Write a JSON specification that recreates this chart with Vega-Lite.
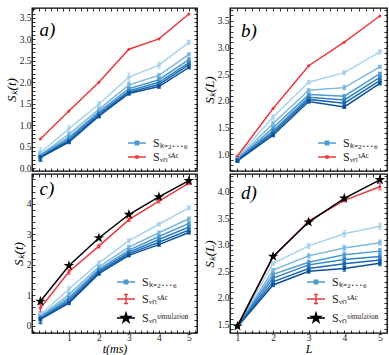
{
"$schema": "https://vega.github.io/schema/vega-lite/v6.json",
"padding": {"left": 4, "top": 3, "right": 2, "bottom": 0},
"background": "white",
"config": {
 "view": {"stroke": "black", "strokeWidth": 1.3},
 "axis": {"labelFont": "Liberation Serif", "labelFontSize": 9.5, "labelColor": "#222222", "tickColor": "black", "tickWidth": 0.8, "domain": false, "titleFont": "Liberation Serif", "titleFontStyle": "italic", "titleFontWeight": "normal", "titleFontSize": 13, "titleColor": "black", "labelOverlap": false, "labelFlush": false}
},
"datasets": {
 "a": [
  {"x":0.05,"y":0.36,"e":0.12,"s":"k2"},{"x":1,"y":0.92,"e":0.08,"s":"k2"},{"x":2,"y":1.49,"e":0.07,"s":"k2"},{"x":3,"y":2.12,"e":0.09,"s":"k2"},{"x":4,"y":2.40,"e":0.07,"s":"k2"},{"x":5,"y":2.93,"e":0.05,"s":"k2"},
  {"x":0.05,"y":0.31,"e":0.10,"s":"k3"},{"x":1,"y":0.79,"e":0.05,"s":"k3"},{"x":2,"y":1.37,"e":0.05,"s":"k3"},{"x":3,"y":1.94,"e":0.06,"s":"k3"},{"x":4,"y":2.16,"e":0.05,"s":"k3"},{"x":5,"y":2.65,"e":0.04,"s":"k3"},
  {"x":0.05,"y":0.29,"e":0.09,"s":"k4"},{"x":1,"y":0.72,"e":0.04,"s":"k4"},{"x":2,"y":1.31,"e":0.04,"s":"k4"},{"x":3,"y":1.85,"e":0.05,"s":"k4"},{"x":4,"y":2.06,"e":0.05,"s":"k4"},{"x":5,"y":2.53,"e":0.04,"s":"k4"},
  {"x":0.05,"y":0.27,"e":0.09,"s":"k5"},{"x":1,"y":0.67,"e":0.04,"s":"k5"},{"x":2,"y":1.27,"e":0.04,"s":"k5"},{"x":3,"y":1.80,"e":0.04,"s":"k5"},{"x":4,"y":2.00,"e":0.04,"s":"k5"},{"x":5,"y":2.46,"e":0.04,"s":"k5"},
  {"x":0.05,"y":0.26,"e":0.09,"s":"k6"},{"x":1,"y":0.64,"e":0.04,"s":"k6"},{"x":2,"y":1.24,"e":0.04,"s":"k6"},{"x":3,"y":1.77,"e":0.04,"s":"k6"},{"x":4,"y":1.95,"e":0.04,"s":"k6"},{"x":5,"y":2.41,"e":0.04,"s":"k6"},
  {"x":0.05,"y":0.25,"e":0.09,"s":"k7"},{"x":1,"y":0.61,"e":0.04,"s":"k7"},{"x":2,"y":1.21,"e":0.04,"s":"k7"},{"x":3,"y":1.74,"e":0.04,"s":"k7"},{"x":4,"y":1.90,"e":0.04,"s":"k7"},{"x":5,"y":2.35,"e":0.04,"s":"k7"},
  {"x":0.05,"y":0.68,"e":0,"s":"SAC"},{"x":1,"y":1.33,"e":0,"s":"SAC"},{"x":2,"y":2.00,"e":0,"s":"SAC"},{"x":3,"y":2.77,"e":0,"s":"SAC"},{"x":4,"y":3.01,"e":0,"s":"SAC"},{"x":5,"y":3.59,"e":0,"s":"SAC"}
 ],
 "b": [
  {"x":1,"y":0.95,"e":0.03,"s":"k2"},{"x":2,"y":1.70,"e":0.04,"s":"k2"},{"x":3,"y":2.35,"e":0.03,"s":"k2"},{"x":4,"y":2.53,"e":0.04,"s":"k2"},{"x":5,"y":2.92,"e":0.04,"s":"k2"},
  {"x":1,"y":0.93,"e":0.03,"s":"k3"},{"x":2,"y":1.58,"e":0.04,"s":"k3"},{"x":3,"y":2.20,"e":0.03,"s":"k3"},{"x":4,"y":2.25,"e":0.04,"s":"k3"},{"x":5,"y":2.64,"e":0.03,"s":"k3"},
  {"x":1,"y":0.91,"e":0.03,"s":"k4"},{"x":2,"y":1.50,"e":0.03,"s":"k4"},{"x":3,"y":2.12,"e":0.03,"s":"k4"},{"x":4,"y":2.09,"e":0.03,"s":"k4"},{"x":5,"y":2.51,"e":0.03,"s":"k4"},
  {"x":1,"y":0.90,"e":0.03,"s":"k5"},{"x":2,"y":1.44,"e":0.03,"s":"k5"},{"x":3,"y":2.07,"e":0.03,"s":"k5"},{"x":4,"y":2.02,"e":0.03,"s":"k5"},{"x":5,"y":2.44,"e":0.03,"s":"k5"},
  {"x":1,"y":0.89,"e":0.03,"s":"k6"},{"x":2,"y":1.40,"e":0.03,"s":"k6"},{"x":3,"y":2.03,"e":0.03,"s":"k6"},{"x":4,"y":1.96,"e":0.03,"s":"k6"},{"x":5,"y":2.38,"e":0.03,"s":"k6"},
  {"x":1,"y":0.88,"e":0.03,"s":"k7"},{"x":2,"y":1.36,"e":0.03,"s":"k7"},{"x":3,"y":1.99,"e":0.03,"s":"k7"},{"x":4,"y":1.89,"e":0.03,"s":"k7"},{"x":5,"y":2.33,"e":0.03,"s":"k7"},
  {"x":1,"y":0.97,"e":0,"s":"SAC"},{"x":2,"y":1.86,"e":0,"s":"SAC"},{"x":3,"y":2.66,"e":0,"s":"SAC"},{"x":4,"y":3.10,"e":0,"s":"SAC"},{"x":5,"y":3.59,"e":0,"s":"SAC"}
 ],
 "c": [
  {"x":0.05,"y":0.36,"e":0.12,"s":"k2"},{"x":1,"y":1.20,"e":0.10,"s":"k2"},{"x":2,"y":2.06,"e":0.07,"s":"k2"},{"x":3,"y":2.79,"e":0.07,"s":"k2"},{"x":4,"y":3.33,"e":0.06,"s":"k2"},{"x":5,"y":3.87,"e":0.06,"s":"k2"},
  {"x":0.05,"y":0.31,"e":0.12,"s":"k3"},{"x":1,"y":1.02,"e":0.07,"s":"k3"},{"x":2,"y":1.93,"e":0.06,"s":"k3"},{"x":3,"y":2.58,"e":0.06,"s":"k3"},{"x":4,"y":3.05,"e":0.06,"s":"k3"},{"x":5,"y":3.51,"e":0.06,"s":"k3"},
  {"x":0.05,"y":0.28,"e":0.12,"s":"k4"},{"x":1,"y":0.92,"e":0.06,"s":"k4"},{"x":2,"y":1.85,"e":0.05,"s":"k4"},{"x":3,"y":2.48,"e":0.05,"s":"k4"},{"x":4,"y":2.93,"e":0.05,"s":"k4"},{"x":5,"y":3.36,"e":0.05,"s":"k4"},
  {"x":0.05,"y":0.25,"e":0.13,"s":"k5"},{"x":1,"y":0.85,"e":0.05,"s":"k5"},{"x":2,"y":1.80,"e":0.05,"s":"k5"},{"x":3,"y":2.41,"e":0.05,"s":"k5"},{"x":4,"y":2.83,"e":0.05,"s":"k5"},{"x":5,"y":3.24,"e":0.05,"s":"k5"},
  {"x":0.05,"y":0.23,"e":0.14,"s":"k6"},{"x":1,"y":0.79,"e":0.05,"s":"k6"},{"x":2,"y":1.75,"e":0.05,"s":"k6"},{"x":3,"y":2.36,"e":0.05,"s":"k6"},{"x":4,"y":2.74,"e":0.05,"s":"k6"},{"x":5,"y":3.14,"e":0.05,"s":"k6"},
  {"x":0.05,"y":0.21,"e":0.15,"s":"k7"},{"x":1,"y":0.74,"e":0.05,"s":"k7"},{"x":2,"y":1.71,"e":0.05,"s":"k7"},{"x":3,"y":2.31,"e":0.05,"s":"k7"},{"x":4,"y":2.66,"e":0.05,"s":"k7"},{"x":5,"y":3.06,"e":0.05,"s":"k7"},
  {"x":0.05,"y":0.58,"e":0.12,"s":"SAC"},{"x":1,"y":1.77,"e":0.08,"s":"SAC"},{"x":2,"y":2.61,"e":0.06,"s":"SAC"},{"x":3,"y":3.48,"e":0.06,"s":"SAC"},{"x":4,"y":4.09,"e":0.06,"s":"SAC"},{"x":5,"y":4.68,"e":0.05,"s":"SAC"},
  {"x":0.05,"y":0.80,"e":0,"s":"Sim"},{"x":1,"y":1.97,"e":0,"s":"Sim"},{"x":2,"y":2.88,"e":0,"s":"Sim"},{"x":3,"y":3.65,"e":0,"s":"Sim"},{"x":4,"y":4.23,"e":0,"s":"Sim"},{"x":5,"y":4.76,"e":0,"s":"Sim"}
 ],
 "d": [
  {"x":1,"y":1.46,"e":0.02,"s":"k2"},{"x":2,"y":2.65,"e":0.03,"s":"k2"},{"x":3,"y":2.98,"e":0.05,"s":"k2"},{"x":4,"y":3.21,"e":0.06,"s":"k2"},{"x":5,"y":3.35,"e":0.06,"s":"k2"},
  {"x":1,"y":1.46,"e":0.02,"s":"k3"},{"x":2,"y":2.52,"e":0.03,"s":"k3"},{"x":3,"y":2.79,"e":0.04,"s":"k3"},{"x":4,"y":2.94,"e":0.05,"s":"k3"},{"x":5,"y":3.04,"e":0.05,"s":"k3"},
  {"x":1,"y":1.46,"e":0.02,"s":"k4"},{"x":2,"y":2.44,"e":0.03,"s":"k4"},{"x":3,"y":2.67,"e":0.04,"s":"k4"},{"x":4,"y":2.81,"e":0.05,"s":"k4"},{"x":5,"y":2.88,"e":0.05,"s":"k4"},
  {"x":1,"y":1.46,"e":0.02,"s":"k5"},{"x":2,"y":2.37,"e":0.03,"s":"k5"},{"x":3,"y":2.62,"e":0.04,"s":"k5"},{"x":4,"y":2.72,"e":0.05,"s":"k5"},{"x":5,"y":2.78,"e":0.05,"s":"k5"},
  {"x":1,"y":1.46,"e":0.02,"s":"k6"},{"x":2,"y":2.30,"e":0.03,"s":"k6"},{"x":3,"y":2.55,"e":0.04,"s":"k6"},{"x":4,"y":2.64,"e":0.05,"s":"k6"},{"x":5,"y":2.71,"e":0.05,"s":"k6"},
  {"x":1,"y":1.45,"e":0.02,"s":"k7"},{"x":2,"y":2.24,"e":0.03,"s":"k7"},{"x":3,"y":2.50,"e":0.04,"s":"k7"},{"x":4,"y":2.55,"e":0.05,"s":"k7"},{"x":5,"y":2.65,"e":0.05,"s":"k7"},
  {"x":1,"y":1.47,"e":0.01,"s":"SAC"},{"x":2,"y":2.77,"e":0.02,"s":"SAC"},{"x":3,"y":3.45,"e":0.03,"s":"SAC"},{"x":4,"y":3.84,"e":0.03,"s":"SAC"},{"x":5,"y":4.10,"e":0.06,"s":"SAC"},
  {"x":1,"y":1.46,"e":0,"s":"Sim"},{"x":2,"y":2.78,"e":0,"s":"Sim"},{"x":3,"y":3.43,"e":0,"s":"Sim"},{"x":4,"y":3.88,"e":0,"s":"Sim"},{"x":5,"y":4.23,"e":0,"s":"Sim"}
 ]
},
"columns": 2,
"bounds": "flush",
"align": "each",
"spacing": {"row": 3, "column": 33},
"resolve": {"scale": {"color": "independent"}, "legend": {"color": "independent"}},
"concat": [
   {
    "width": 165, "height": 163,
    "data": {"name": "a"},
    "resolve": {"axis": {"x": "independent", "y": "independent"}},
    "layer": [
     {
      "transform": [{"filter": "datum.e > 0"}],
      "mark": {"type": "errorbar", "ticks": {"size": 4}, "thickness": 1.1},
      "encoding": {
       "x": {"field": "x", "type": "quantitative", "axis": null},
       "y": {"field": "y", "type": "quantitative", "axis": null},
       "yError": {"field": "e"},
       "color": {"field": "s", "type": "nominal"}
      }
     },
     {
      "mark": {"type": "line", "strokeWidth": 1.5},
      "encoding": {
       "x": {"field": "x", "type": "quantitative", "scale": {"domain": [-0.23, 5.27], "nice": false, "zero": false},
        "axis": {"orient": "bottom", "labels": false, "title": null, "tickSize": -3,
         "values": [-0.2,0,0.2,0.4,0.6,0.8,1,1.2,1.4,1.6,1.8,2,2.2,2.4,2.6,2.8,3,3.2,3.4,3.6,3.8,4,4.2,4.4,4.6,4.8,5,5.2],
         "gridColor": {"condition": {"test": "abs(datum.value-round(datum.value))<0.001 && datum.value>0.5", "value": "#d2d2d2"}, "value": "#eeeeee"},
         "gridWidth": {"condition": {"test": "abs(datum.value-round(datum.value))<0.001 && datum.value>0.5", "value": 0.9}, "value": 0.5}}},
       "y": {"field": "y", "type": "quantitative", "scale": {"domain": [-0.065, 3.73], "nice": false, "zero": false},
        "axis": {"orient": "left", "title": "Sₖ(t)", "titlePadding": 1, "tickSize": -3, "labelPadding": 4,
         "values": [0,0.1,0.2,0.3,0.4,0.5,0.6,0.7,0.8,0.9,1,1.1,1.2,1.3,1.4,1.5,1.6,1.7,1.8,1.9,2,2.1,2.2,2.3,2.4,2.5,2.6,2.7,2.8,2.9,3,3.1,3.2,3.3,3.4,3.5,3.6,3.7],
         "labelExpr": "abs(datum.value*2-round(datum.value*2))<0.001 ? format(datum.value,'.1f') : ''",
         "gridColor": {"condition": {"test": "abs(datum.value*2-round(datum.value*2))<0.001", "value": "#d2d2d2"}, "value": "#eeeeee"},
         "gridWidth": {"condition": {"test": "abs(datum.value*2-round(datum.value*2))<0.001", "value": 0.9}, "value": 0.5}}},
       "color": {"field": "s", "type": "nominal",
        "scale": {"domain": ["k2","k3","k4","k5","k6","k7","SAC"], "range": ["#a8d2ec","#7ab6df","#4f9bd1","#3282c2","#1d69b0","#0d5299","#e8393f"]},
        "legend": {"title": null, "orient": "bottom-right", "offset": 6, "values": ["k4","SAC"],
         "labelExpr": "datum.value == 'k4' ? 'Sₖ₌₂…₆' : datum.value == 'SAC' ? 'Sᵥₙˢᴬᶜ' : 'Sᵥₙˢⁱᵐᵘˡᵃᵗⁱᵒⁿ'",
         "labelFont": "Liberation Serif", "labelFontSize": 12, "labelColor": "#222222", "symbolSize": 100, "labelOffset": 10, "rowPadding": 2, "padding": 2,
         "encode": {"symbols": {"update": {
          "shape": {"signal": "datum.value == 'SAC' ? 'M-1.8,0L1.8,0M-0.2,-0.2H0.2V0.2H-0.2Z' : 'M-1.8,0L1.8,0M-0.35,-0.35H0.35V0.35H-0.35Z'"},
          "fill": {"signal": "datum.value == 'SAC' ? '#e8393f' : '#3585c5'"},
          "stroke": {"signal": "datum.value == 'SAC' ? '#e8393f' : '#3585c5'"},
          "strokeWidth": {"value": 1.4}, "opacity": {"value": 1}}}}}}
      }
     },
     {
      "transform": [{"filter": "datum.s != 'SAC'"}],
      "mark": {"type": "point", "shape": "square", "filled": true, "size": 12, "opacity": 1},
      "encoding": {
       "x": {"field": "x", "type": "quantitative", "axis": {"orient": "top", "labels": false, "title": null, "grid": false, "tickSize": -3,
         "values": [-0.2,0,0.2,0.4,0.6,0.8,1,1.2,1.4,1.6,1.8,2,2.2,2.4,2.6,2.8,3,3.2,3.4,3.6,3.8,4,4.2,4.4,4.6,4.8,5,5.2]}},
       "y": {"field": "y", "type": "quantitative", "axis": {"orient": "right", "labels": false, "title": null, "grid": false, "tickSize": -3,
         "values": [0,0.1,0.2,0.3,0.4,0.5,0.6,0.7,0.8,0.9,1,1.1,1.2,1.3,1.4,1.5,1.6,1.7,1.8,1.9,2,2.1,2.2,2.3,2.4,2.5,2.6,2.7,2.8,2.9,3,3.1,3.2,3.3,3.4,3.5,3.6,3.7]}},
       "color": {"field": "s", "type": "nominal"}
      }
     },
     {
      "transform": [{"filter": "datum.s == 'SAC'"}],
      "mark": {"type": "point", "shape": "circle", "filled": true, "size": 9, "opacity": 1},
      "encoding": {
       "x": {"field": "x", "type": "quantitative", "axis": null},
       "y": {"field": "y", "type": "quantitative", "axis": null},
       "color": {"field": "s", "type": "nominal"}
      }
     },
     {
      "data": {"values": [{"lab": "a)"}]},
      "mark": {"type": "text", "font": "Liberation Serif", "fontStyle": "italic", "fontSize": 19, "align": "left", "baseline": "alphabetic", "color": "black"},
      "encoding": {
       "x": {"datum": 0.02, "type": "quantitative", "axis": null},
       "y": {"datum": 3.07, "type": "quantitative", "axis": null},
       "text": {"field": "lab"}
      }
     }
    ]
   },
   {
    "width": 157, "height": 163,
    "data": {"name": "b"},
    "resolve": {"axis": {"x": "independent", "y": "independent"}},
    "layer": [
     {
      "transform": [{"filter": "datum.e > 0"}],
      "mark": {"type": "errorbar", "ticks": {"size": 4}, "thickness": 1.1},
      "encoding": {
       "x": {"field": "x", "type": "quantitative", "axis": null},
       "y": {"field": "y", "type": "quantitative", "axis": null},
       "yError": {"field": "e"},
       "color": {"field": "s", "type": "nominal"}
      }
     },
     {
      "mark": {"type": "line", "strokeWidth": 1.5},
      "encoding": {
       "x": {"field": "x", "type": "quantitative", "scale": {"domain": [0.79, 5.2], "nice": false, "zero": false},
        "axis": {"orient": "bottom", "labels": false, "title": null, "tickSize": -3,
         "values": [0.8,1,1.2,1.4,1.6,1.8,2,2.2,2.4,2.6,2.8,3,3.2,3.4,3.6,3.8,4,4.2,4.4,4.6,4.8,5],
         "gridColor": {"condition": {"test": "abs(datum.value-round(datum.value))<0.001", "value": "#d2d2d2"}, "value": "#eeeeee"},
         "gridWidth": {"condition": {"test": "abs(datum.value-round(datum.value))<0.001", "value": 0.9}, "value": 0.5}}},
       "y": {"field": "y", "type": "quantitative", "scale": {"domain": [0.69, 3.74], "nice": false, "zero": false},
        "axis": {"orient": "left", "title": "Sₖ(L)", "titlePadding": 1, "tickSize": -3, "labelPadding": 4,
         "values": [0.7,0.8,0.9,1,1.1,1.2,1.3,1.4,1.5,1.6,1.7,1.8,1.9,2,2.1,2.2,2.3,2.4,2.5,2.6,2.7,2.8,2.9,3,3.1,3.2,3.3,3.4,3.5,3.6,3.7],
         "labelExpr": "abs(datum.value*2-round(datum.value*2))<0.001 ? format(datum.value,'.1f') : ''",
         "gridColor": {"condition": {"test": "abs(datum.value*2-round(datum.value*2))<0.001", "value": "#d2d2d2"}, "value": "#eeeeee"},
         "gridWidth": {"condition": {"test": "abs(datum.value*2-round(datum.value*2))<0.001", "value": 0.9}, "value": 0.5}}},
       "color": {"field": "s", "type": "nominal",
        "scale": {"domain": ["k2","k3","k4","k5","k6","k7","SAC"], "range": ["#a8d2ec","#7ab6df","#4f9bd1","#3282c2","#1d69b0","#0d5299","#e8393f"]},
        "legend": {"title": null, "orient": "bottom-right", "offset": 6, "values": ["k4","SAC"],
         "labelExpr": "datum.value == 'k4' ? 'Sₖ₌₂…₆' : datum.value == 'SAC' ? 'Sᵥₙˢᴬᶜ' : 'Sᵥₙˢⁱᵐᵘˡᵃᵗⁱᵒⁿ'",
         "labelFont": "Liberation Serif", "labelFontSize": 12, "labelColor": "#222222", "symbolSize": 100, "labelOffset": 10, "rowPadding": 2, "padding": 2,
         "encode": {"symbols": {"update": {
          "shape": {"signal": "datum.value == 'SAC' ? 'M-1.8,0L1.8,0M-0.2,-0.2H0.2V0.2H-0.2Z' : 'M-1.8,0L1.8,0M-0.35,-0.35H0.35V0.35H-0.35Z'"},
          "fill": {"signal": "datum.value == 'SAC' ? '#e8393f' : '#3585c5'"},
          "stroke": {"signal": "datum.value == 'SAC' ? '#e8393f' : '#3585c5'"},
          "strokeWidth": {"value": 1.4}, "opacity": {"value": 1}}}}}}
      }
     },
     {
      "transform": [{"filter": "datum.s != 'SAC'"}],
      "mark": {"type": "point", "shape": "square", "filled": true, "size": 12, "opacity": 1},
      "encoding": {
       "x": {"field": "x", "type": "quantitative", "axis": {"orient": "top", "labels": false, "title": null, "grid": false, "tickSize": -3,
         "values": [0.8,1,1.2,1.4,1.6,1.8,2,2.2,2.4,2.6,2.8,3,3.2,3.4,3.6,3.8,4,4.2,4.4,4.6,4.8,5]}},
       "y": {"field": "y", "type": "quantitative", "axis": {"orient": "right", "labels": false, "title": null, "grid": false, "tickSize": -3,
         "values": [0.7,0.8,0.9,1,1.1,1.2,1.3,1.4,1.5,1.6,1.7,1.8,1.9,2,2.1,2.2,2.3,2.4,2.5,2.6,2.7,2.8,2.9,3,3.1,3.2,3.3,3.4,3.5,3.6,3.7]}},
       "color": {"field": "s", "type": "nominal"}
      }
     },
     {
      "transform": [{"filter": "datum.s == 'SAC'"}],
      "mark": {"type": "point", "shape": "circle", "filled": true, "size": 9, "opacity": 1},
      "encoding": {
       "x": {"field": "x", "type": "quantitative", "axis": null},
       "y": {"field": "y", "type": "quantitative", "axis": null},
       "color": {"field": "s", "type": "nominal"}
      }
     },
     {
      "data": {"values": [{"lab": "b)"}]},
      "mark": {"type": "text", "font": "Liberation Serif", "fontStyle": "italic", "fontSize": 19, "align": "left", "baseline": "alphabetic", "color": "black"},
      "encoding": {
       "x": {"datum": 1.1, "type": "quantitative", "axis": null},
       "y": {"datum": 3.2, "type": "quantitative", "axis": null},
       "text": {"field": "lab"}
      }
     }
    ]
   },
   {
    "width": 165, "height": 159,
    "data": {"name": "c"},
    "resolve": {"axis": {"x": "independent", "y": "independent"}},
    "layer": [
     {
      "transform": [{"filter": "datum.e > 0"}],
      "mark": {"type": "errorbar", "ticks": {"size": 4}, "thickness": 1.1},
      "encoding": {
       "x": {"field": "x", "type": "quantitative", "axis": null},
       "y": {"field": "y", "type": "quantitative", "axis": null},
       "yError": {"field": "e"},
       "color": {"field": "s", "type": "nominal"}
      }
     },
     {
      "mark": {"type": "line", "strokeWidth": 1.5},
      "encoding": {
       "x": {"field": "x", "type": "quantitative", "scale": {"domain": [-0.23, 5.27], "nice": false, "zero": false},
        "axis": {"orient": "bottom", "title": "t(ms)", "titlePadding": 2, "titleFontSize": 12, "tickSize": -3, "labelPadding": 2,
         "values": [-0.2,0,0.2,0.4,0.6,0.8,1,1.2,1.4,1.6,1.8,2,2.2,2.4,2.6,2.8,3,3.2,3.4,3.6,3.8,4,4.2,4.4,4.6,4.8,5,5.2],
         "labelExpr": "abs(datum.value-round(datum.value))<0.001 && datum.value>0.5 ? format(datum.value,'d') : ''",
         "gridColor": {"condition": {"test": "abs(datum.value-round(datum.value))<0.001 && datum.value>0.5", "value": "#d2d2d2"}, "value": "#eeeeee"},
         "gridWidth": {"condition": {"test": "abs(datum.value-round(datum.value))<0.001 && datum.value>0.5", "value": 0.9}, "value": 0.5}}},
       "y": {"field": "y", "type": "quantitative", "scale": {"domain": [-0.24, 4.98], "nice": false, "zero": false},
        "axis": {"orient": "left", "title": "Sₖ(t)", "titlePadding": 1, "tickSize": -3, "labelPadding": 4,
         "values": [-0.2,0,0.2,0.4,0.6,0.8,1,1.2,1.4,1.6,1.8,2,2.2,2.4,2.6,2.8,3,3.2,3.4,3.6,3.8,4,4.2,4.4,4.6,4.8],
         "labelExpr": "abs(datum.value-round(datum.value))<0.001 ? format(datum.value,'d') : ''",
         "gridColor": {"condition": {"test": "abs(datum.value-round(datum.value))<0.001", "value": "#d2d2d2"}, "value": "#eeeeee"},
         "gridWidth": {"condition": {"test": "abs(datum.value-round(datum.value))<0.001", "value": 0.9}, "value": 0.5}}},
       "color": {"field": "s", "type": "nominal",
        "scale": {"domain": ["k2","k3","k4","k5","k6","k7","SAC","Sim"], "range": ["#a8d2ec","#7ab6df","#4f9bd1","#3282c2","#1d69b0","#0d5299","#e8393f","#000000"]},
        "legend": {"title": null, "orient": "bottom-right", "offset": 6, "values": ["k4","SAC","Sim"],
         "labelExpr": "datum.value == 'k4' ? 'Sₖ₌₂…₆' : datum.value == 'SAC' ? 'Sᵥₙˢᴬᶜ' : 'Sᵥₙˢⁱᵐᵘˡᵃᵗⁱᵒⁿ'",
         "labelFont": "Liberation Serif", "labelFontSize": 12, "labelColor": "#222222", "symbolSize": 100, "labelOffset": 10, "rowPadding": 3, "padding": 2,
         "encode": {"symbols": {"update": {
          "shape": {"signal": "datum.value == 'Sim' ? 'M-1.8,0L1.8,0M0,-1L0.2245,-0.309L0.951,-0.309L0.363,0.118L0.588,0.809L0,0.382L-0.588,0.809L-0.363,0.118L-0.951,-0.309L-0.2245,-0.309Z' : datum.value == 'SAC' ? 'M-1.8,0L1.8,0M0,-0.9V0.9M-0.4,-0.9H0.4M-0.4,0.9H0.4' : 'M-1.8,0L1.8,0M-0.35,-0.35H0.35V0.35H-0.35Z'"},
          "fill": {"signal": "datum.value == 'Sim' ? '#000000' : datum.value == 'SAC' ? '#e8393f' : '#3585c5'"},
          "stroke": {"signal": "datum.value == 'Sim' ? '#000000' : datum.value == 'SAC' ? '#e8393f' : '#3585c5'"},
          "strokeWidth": {"value": 1.4}, "opacity": {"value": 1}}}}}}
      }
     },
     {
      "transform": [{"filter": "datum.s != 'SAC' && datum.s != 'Sim'"}],
      "mark": {"type": "point", "shape": "square", "filled": true, "size": 12, "opacity": 1},
      "encoding": {
       "x": {"field": "x", "type": "quantitative", "axis": {"orient": "top", "labels": false, "title": null, "grid": false, "tickSize": -3,
         "values": [-0.2,0,0.2,0.4,0.6,0.8,1,1.2,1.4,1.6,1.8,2,2.2,2.4,2.6,2.8,3,3.2,3.4,3.6,3.8,4,4.2,4.4,4.6,4.8,5,5.2]}},
       "y": {"field": "y", "type": "quantitative", "axis": {"orient": "right", "labels": false, "title": null, "grid": false, "tickSize": -3,
         "values": [-0.2,0,0.2,0.4,0.6,0.8,1,1.2,1.4,1.6,1.8,2,2.2,2.4,2.6,2.8,3,3.2,3.4,3.6,3.8,4,4.2,4.4,4.6,4.8]}},
       "color": {"field": "s", "type": "nominal"}
      }
     },
     {
      "transform": [{"filter": "datum.s == 'SAC'"}],
      "mark": {"type": "point", "shape": "circle", "filled": true, "size": 9, "opacity": 1},
      "encoding": {
       "x": {"field": "x", "type": "quantitative", "axis": null},
       "y": {"field": "y", "type": "quantitative", "axis": null},
       "color": {"field": "s", "type": "nominal"}
      }
     },
     {
      "transform": [{"filter": "datum.s == 'Sim'"}],
      "mark": {"type": "point", "shape": "M0,-1L0.2245,-0.309L0.951,-0.309L0.363,0.118L0.588,0.809L0,0.382L-0.588,0.809L-0.363,0.118L-0.951,-0.309L-0.2245,-0.309Z", "filled": true, "size": 120, "opacity": 1},
      "encoding": {
       "x": {"field": "x", "type": "quantitative", "axis": null},
       "y": {"field": "y", "type": "quantitative", "axis": null},
       "color": {"field": "s", "type": "nominal"}
      }
     },
     {
      "data": {"values": [{"lab": "c)"}]},
      "mark": {"type": "text", "font": "Liberation Serif", "fontStyle": "italic", "fontSize": 19, "align": "left", "baseline": "alphabetic", "color": "black"},
      "encoding": {
       "x": {"datum": 0.02, "type": "quantitative", "axis": null},
       "y": {"datum": 4.28, "type": "quantitative", "axis": null},
       "text": {"field": "lab"}
      }
     }
    ]
   },
   {
    "width": 157, "height": 159,
    "data": {"name": "d"},
    "resolve": {"axis": {"x": "independent", "y": "independent"}},
    "layer": [
     {
      "transform": [{"filter": "datum.e > 0"}],
      "mark": {"type": "errorbar", "ticks": {"size": 4}, "thickness": 1.1},
      "encoding": {
       "x": {"field": "x", "type": "quantitative", "axis": null},
       "y": {"field": "y", "type": "quantitative", "axis": null},
       "yError": {"field": "e"},
       "color": {"field": "s", "type": "nominal"}
      }
     },
     {
      "mark": {"type": "line", "strokeWidth": 1.5},
      "encoding": {
       "x": {"field": "x", "type": "quantitative", "scale": {"domain": [0.79, 5.2], "nice": false, "zero": false},
        "axis": {"orient": "bottom", "title": "L", "titlePadding": 2, "titleFontSize": 12, "tickSize": -3, "labelPadding": 2,
         "values": [0.8,1,1.2,1.4,1.6,1.8,2,2.2,2.4,2.6,2.8,3,3.2,3.4,3.6,3.8,4,4.2,4.4,4.6,4.8,5],
         "labelExpr": "abs(datum.value-round(datum.value))<0.001 ? format(datum.value,'d') : ''",
         "gridColor": {"condition": {"test": "abs(datum.value-round(datum.value))<0.001", "value": "#d2d2d2"}, "value": "#eeeeee"},
         "gridWidth": {"condition": {"test": "abs(datum.value-round(datum.value))<0.001", "value": 0.9}, "value": 0.5}}},
       "y": {"field": "y", "type": "quantitative", "scale": {"domain": [1.33, 4.34], "nice": false, "zero": false},
        "axis": {"orient": "left", "title": "Sₖ(L)", "titlePadding": 1, "tickSize": -3, "labelPadding": 4,
         "values": [1.4,1.5,1.6,1.7,1.8,1.9,2,2.1,2.2,2.3,2.4,2.5,2.6,2.7,2.8,2.9,3,3.1,3.2,3.3,3.4,3.5,3.6,3.7,3.8,3.9,4,4.1,4.2,4.3],
         "labelExpr": "abs(datum.value*2-round(datum.value*2))<0.001 ? format(datum.value,'.1f') : ''",
         "gridColor": {"condition": {"test": "abs(datum.value*2-round(datum.value*2))<0.001", "value": "#d2d2d2"}, "value": "#eeeeee"},
         "gridWidth": {"condition": {"test": "abs(datum.value*2-round(datum.value*2))<0.001", "value": 0.9}, "value": 0.5}}},
       "color": {"field": "s", "type": "nominal",
        "scale": {"domain": ["k2","k3","k4","k5","k6","k7","SAC","Sim"], "range": ["#a8d2ec","#7ab6df","#4f9bd1","#3282c2","#1d69b0","#0d5299","#e8393f","#000000"]},
        "legend": {"title": null, "orient": "bottom-right", "offset": 6, "values": ["k4","SAC","Sim"],
         "labelExpr": "datum.value == 'k4' ? 'Sₖ₌₂…₆' : datum.value == 'SAC' ? 'Sᵥₙˢᴬᶜ' : 'Sᵥₙˢⁱᵐᵘˡᵃᵗⁱᵒⁿ'",
         "labelFont": "Liberation Serif", "labelFontSize": 12, "labelColor": "#222222", "symbolSize": 100, "labelOffset": 10, "rowPadding": 3, "padding": 2,
         "encode": {"symbols": {"update": {
          "shape": {"signal": "datum.value == 'Sim' ? 'M-1.8,0L1.8,0M0,-1L0.2245,-0.309L0.951,-0.309L0.363,0.118L0.588,0.809L0,0.382L-0.588,0.809L-0.363,0.118L-0.951,-0.309L-0.2245,-0.309Z' : datum.value == 'SAC' ? 'M-1.8,0L1.8,0M0,-0.9V0.9M-0.4,-0.9H0.4M-0.4,0.9H0.4' : 'M-1.8,0L1.8,0M-0.35,-0.35H0.35V0.35H-0.35Z'"},
          "fill": {"signal": "datum.value == 'Sim' ? '#000000' : datum.value == 'SAC' ? '#e8393f' : '#3585c5'"},
          "stroke": {"signal": "datum.value == 'Sim' ? '#000000' : datum.value == 'SAC' ? '#e8393f' : '#3585c5'"},
          "strokeWidth": {"value": 1.4}, "opacity": {"value": 1}}}}}}
      }
     },
     {
      "transform": [{"filter": "datum.s != 'SAC' && datum.s != 'Sim'"}],
      "mark": {"type": "point", "shape": "square", "filled": true, "size": 12, "opacity": 1},
      "encoding": {
       "x": {"field": "x", "type": "quantitative", "axis": {"orient": "top", "labels": false, "title": null, "grid": false, "tickSize": -3,
         "values": [0.8,1,1.2,1.4,1.6,1.8,2,2.2,2.4,2.6,2.8,3,3.2,3.4,3.6,3.8,4,4.2,4.4,4.6,4.8,5]}},
       "y": {"field": "y", "type": "quantitative", "axis": {"orient": "right", "labels": false, "title": null, "grid": false, "tickSize": -3,
         "values": [1.4,1.5,1.6,1.7,1.8,1.9,2,2.1,2.2,2.3,2.4,2.5,2.6,2.7,2.8,2.9,3,3.1,3.2,3.3,3.4,3.5,3.6,3.7,3.8,3.9,4,4.1,4.2,4.3]}},
       "color": {"field": "s", "type": "nominal"}
      }
     },
     {
      "transform": [{"filter": "datum.s == 'SAC'"}],
      "mark": {"type": "point", "shape": "circle", "filled": true, "size": 9, "opacity": 1},
      "encoding": {
       "x": {"field": "x", "type": "quantitative", "axis": null},
       "y": {"field": "y", "type": "quantitative", "axis": null},
       "color": {"field": "s", "type": "nominal"}
      }
     },
     {
      "transform": [{"filter": "datum.s == 'Sim'"}],
      "mark": {"type": "point", "shape": "M0,-1L0.2245,-0.309L0.951,-0.309L0.363,0.118L0.588,0.809L0,0.382L-0.588,0.809L-0.363,0.118L-0.951,-0.309L-0.2245,-0.309Z", "filled": true, "size": 120, "opacity": 1},
      "encoding": {
       "x": {"field": "x", "type": "quantitative", "axis": null},
       "y": {"field": "y", "type": "quantitative", "axis": null},
       "color": {"field": "s", "type": "nominal"}
      }
     },
     {
      "data": {"values": [{"lab": "d)"}]},
      "mark": {"type": "text", "font": "Liberation Serif", "fontStyle": "italic", "fontSize": 19, "align": "left", "baseline": "alphabetic", "color": "black"},
      "encoding": {
       "x": {"datum": 1.1, "type": "quantitative", "axis": null},
       "y": {"datum": 3.86, "type": "quantitative", "axis": null},
       "text": {"field": "lab"}
      }
     }
    ]
   }
]
}
